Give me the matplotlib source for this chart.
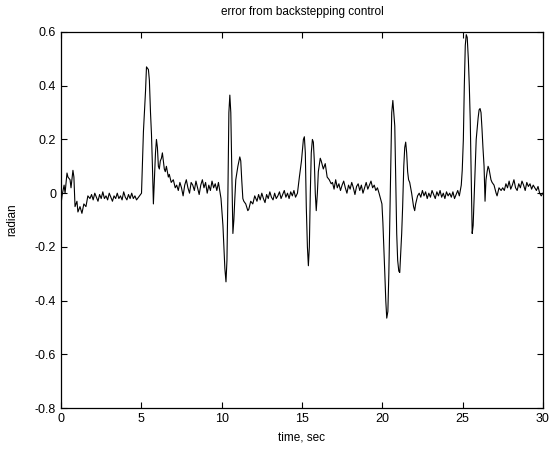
import numpy as np
import matplotlib
matplotlib.use('Agg')
import matplotlib.pyplot as plt
from matplotlib.ticker import FuncFormatter

plt.rcParams['font.family'] = ['Liberation Sans', 'DejaVu Sans']

# ---------------------------------------------------------------- data
t_start = [0.0, 0.06, 0.19, 0.25, 0.37, 0.43, 0.56, 0.62, 0.74, 0.80, 0.87, 0.99,
           1.05, 1.18, 1.30, 1.42, 1.55, 1.67]
e_start = [-0.04, -0.01, 0.03, 0.0, 0.075, 0.06, 0.05, 0.02, 0.085, 0.06, -0.05, -0.03,
           -0.07, -0.05, -0.075, -0.04, -0.05, -0.01]

e_quiet1 = [-0.02, -0.005, -0.025, 0.0, -0.015, -0.03, -0.005, -0.02, 0.005, -0.02,
            -0.01, -0.025, 0.0, -0.015, -0.03, -0.01, -0.02, 0.0, -0.02, -0.01,
            -0.025, 0.005, -0.015, -0.025, -0.005, -0.02, 0.0, -0.02, -0.01, -0.025]

t_peak1 = [5.01, 5.07, 5.13, 5.26, 5.32, 5.44, 5.50, 5.57, 5.63, 5.69, 5.75, 5.81,
           5.88, 5.94, 6.0, 6.06, 6.12, 6.18, 6.25, 6.31, 6.37, 6.43, 6.49, 6.56,
           6.68, 6.74, 6.86, 6.99, 7.11]
e_peak1 = [0.0, 0.12, 0.23, 0.38, 0.47, 0.46, 0.42, 0.3, 0.22, 0.1, -0.04, 0.05,
           0.15, 0.2, 0.17, 0.1, 0.09, 0.12, 0.13, 0.15, 0.12, 0.09, 0.08, 0.10,
           0.06, 0.07, 0.04, 0.05, 0.02]

e_quiet2 = [0.03, 0.01, 0.04, 0.02, -0.01, 0.03, 0.05, 0.02, 0.0, 0.04, 0.03, 0.01,
            0.045, 0.02, -0.005, 0.03, 0.05, 0.02, 0.04, 0.0, 0.03, 0.01, 0.045,
            0.02, 0.035, 0.01, 0.04]

t_peak2 = [9.96, 10.02, 10.08, 10.14, 10.20, 10.27, 10.33, 10.39, 10.45, 10.51, 10.57,
           10.64, 10.70, 10.76, 10.82, 10.88, 11.01, 11.13, 11.19, 11.25, 11.32, 11.38,
           11.50, 11.63, 11.69, 11.81, 11.94, 12.06]
e_peak2 = [-0.02, -0.07, -0.12, -0.2, -0.28, -0.33, -0.25, 0.0, 0.3, 0.365, 0.3,
           0.05, -0.15, -0.1, -0.02, 0.05, 0.1, 0.135, 0.12, 0.05, -0.02, -0.03,
           -0.04, -0.065, -0.06, -0.03, -0.04, -0.01]

e_quiet3 = [-0.03, -0.005, -0.025, 0.0, -0.02, -0.035, -0.005, -0.02, 0.005, -0.015,
            -0.025, 0.0, -0.02, -0.01, 0.005, -0.02, -0.005, 0.01, -0.015, 0.0,
            -0.02, 0.005, -0.01, 0.01, -0.015]

t_peak3 = [14.72, 14.84, 14.97, 15.09, 15.15, 15.21, 15.27, 15.34, 15.40, 15.46, 15.52,
           15.58, 15.65, 15.71, 15.77, 15.83, 15.89, 15.96, 16.02, 16.14, 16.20, 16.33,
           16.45, 16.57, 16.70, 16.82]
e_peak3 = [0.0, 0.06, 0.12, 0.2, 0.21, 0.15, -0.05, -0.2, -0.27, -0.2, 0.0,
           0.15, 0.2, 0.19, 0.12, 0.0, -0.065, 0.0, 0.08, 0.13, 0.12, 0.09,
           0.11, 0.06, 0.05, 0.035]

e_quiet4 = [0.04, 0.015, 0.05, 0.02, 0.035, 0.01, 0.03, 0.045, 0.02, 0.0, 0.03, 0.015,
            0.04, 0.02, -0.005, 0.025, 0.035, 0.01, 0.03, 0.0, 0.02, 0.04, 0.015,
            0.03, 0.045, 0.02, 0.03, 0.01, 0.02, 0.0]

t_peak4 = [19.98, 20.04, 20.10, 20.16, 20.22, 20.28, 20.35, 20.41, 20.47, 20.53, 20.59,
           20.66, 20.72, 20.78, 20.84, 20.90, 20.96, 21.03, 21.09, 21.15, 21.21, 21.27,
           21.34, 21.40, 21.46, 21.52, 21.58, 21.64, 21.71, 21.83, 21.95, 22.02, 22.08,
           22.20]
e_peak4 = [-0.04, -0.11, -0.2, -0.3, -0.4, -0.465, -0.44, -0.3, -0.1, 0.1, 0.3,
           0.345, 0.3, 0.25, 0.05, -0.15, -0.25, -0.29, -0.295, -0.22, -0.15, -0.05,
           0.1, 0.17, 0.19, 0.15, 0.08, 0.05, 0.04, 0.0, -0.05, -0.065, -0.04,
           -0.01]

e_quiet5 = [0.0, -0.015, 0.01, -0.01, 0.005, -0.02, 0.0, -0.015, 0.01, -0.005, -0.02,
            0.005, -0.01, 0.01, -0.015, 0.0, -0.02, 0.005, -0.01, 0.0, -0.015, 0.005,
            -0.02, -0.005, 0.01, -0.01]

t_peak5 = [24.92, 24.98, 25.05, 25.11, 25.17, 25.23, 25.29, 25.36, 25.42, 25.48, 25.54,
           25.60, 25.66, 25.73, 25.79, 25.85, 25.97, 26.03, 26.09, 26.15, 26.21, 26.27,
           26.34, 26.40, 26.46, 26.53, 26.59, 26.65, 26.71, 26.77, 26.84, 26.96, 27.09,
           27.15, 27.27, 27.40]
e_peak5 = [0.03, 0.085, 0.2, 0.4, 0.55, 0.59, 0.58, 0.5, 0.4, 0.27, 0.05,
           -0.15, -0.12, 0.0, 0.1, 0.2, 0.28, 0.31, 0.315, 0.3, 0.24, 0.17,
           0.1, -0.03, 0.05, 0.08, 0.1, 0.09, 0.07, 0.05, 0.04, 0.03, 0.0,
           -0.01, 0.02, 0.01]

e_quiet6 = [0.02, 0.01, 0.035, 0.02, 0.045, 0.015, 0.03, 0.05, 0.02, 0.01, 0.035,
            0.02, 0.045, 0.03, 0.01, 0.04, 0.025, 0.035, 0.015, 0.03, 0.02, 0.01,
            0.025, 0.0, -0.01, 0.0]

# quiet stretches are sampled every 0.1 s
def quiet(t0, vals):
    return list(np.round(t0 + 0.1 * np.arange(len(vals)), 2)), vals

segments = [
    (t_start, e_start), quiet(1.8, e_quiet1),
    (t_peak1, e_peak1), quiet(7.2, e_quiet2),
    (t_peak2, e_peak2), quiet(12.2, e_quiet3),
    (t_peak3, e_peak3), quiet(16.9, e_quiet4),
    (t_peak4, e_peak4), quiet(22.3, e_quiet5),
    (t_peak5, e_peak5), quiet(27.5, e_quiet6),
]
t = np.concatenate([np.asarray(s[0], float) for s in segments])
e = np.concatenate([np.asarray(s[1], float) for s in segments])

# ---------------------------------------------------------------- plot
fig = plt.figure(figsize=(5.5, 4.5), dpi=100)
ax = fig.add_axes([0.111, 0.093, 0.876, 0.836])
ax.plot(t, e, color="black", lw=0.8)

ax.set_xlim(0, 30)
ax.set_ylim(-0.8, 0.6)
ax.set_xticks([0, 5, 10, 15, 20, 25, 30])
ax.set_yticks([-0.8, -0.6, -0.4, -0.2, 0, 0.2, 0.4, 0.6])
ax.yaxis.set_major_formatter(FuncFormatter(lambda v, p: "0" if abs(v) < 1e-9 else f"{v:.1f}"))
ax.tick_params(direction="in", top=True, right=True, labelsize=9, length=4, width=0.8)
for s in ax.spines.values():
    s.set_linewidth(0.9)

ax.set_title("error from backstepping control", fontsize=8.5, pad=12)
ax.set_xlabel("time, sec", fontsize=8.5, labelpad=5)
ax.set_ylabel("radian", fontsize=8.5, labelpad=12)

fig.savefig("out.png", dpi=100)
